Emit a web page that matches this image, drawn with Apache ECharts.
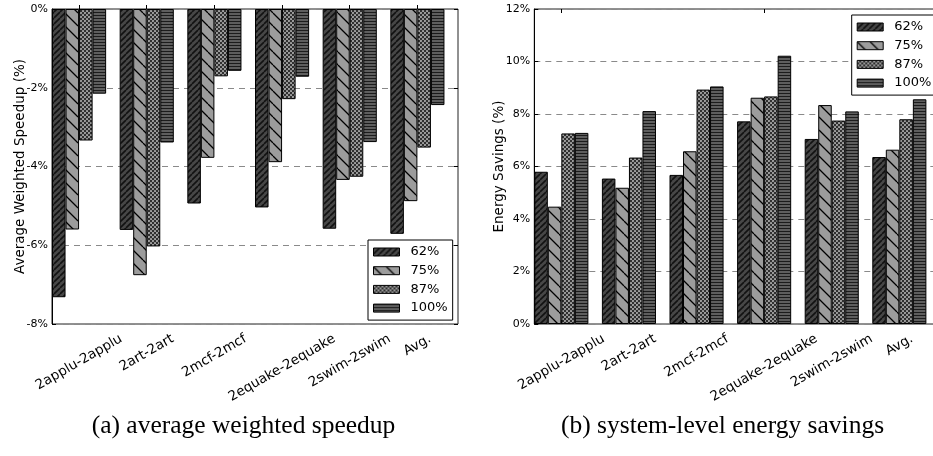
<!DOCTYPE html>
<html><head><meta charset="utf-8">
<script src="https://cdn.jsdelivr.net/npm/echarts@6/dist/echarts.min.js"></script>
<style>html,body{margin:0;padding:0;background:#fff}#c{width:933px;height:456px}</style>
</head><body><div id="c"></div>
<script>
// ---------- data ----------
const categories = ['2applu-2applu','2art-2art','2mcf-2mcf','2equake-2equake','2swim-2swim','Avg.'];
const seriesNames = ['62%','75%','87%','100%'];
const speedup62  = [-7.32,-5.61,-4.94,-5.04,-5.58,-5.71];
const speedup75  = [-5.60,-6.76,-3.78,-3.89,-4.34,-4.88];
const speedup87  = [-3.34,-6.03,-1.71,-2.29,-4.26,-3.52];
const speedup100 = [-2.15,-3.39,-1.57,-1.72,-3.38,-2.44];
const energy62  = [5.80,5.54,5.68,7.72,7.05,6.36];
const energy75  = [4.47,5.19,6.58,8.62,8.34,6.64];
const energy87  = [7.26,6.34,8.93,8.67,7.75,7.80];
const energy100 = [7.28,8.11,9.05,10.22,8.10,8.56];
const speedupTicks = [-8,-6,-4,-2,0];
const energyTicks = [0,2,4,6,8,10,12];
const yNameLeft = 'Average Weighted Speedup (%)';
const yNameRight = 'Energy Savings (%)';
const captionLeft = '(a) average weighted speedup';
const captionRight = '(b) system-level energy savings';

// ---------- hatch patterns ----------
function makeTile(w,h,draw){const c=document.createElement('canvas');c.width=w;c.height=h;const g=c.getContext('2d');draw(g,w,h);return c;}
const pat62 = makeTile(6,6,(g,w,h)=>{g.fillStyle='#474747';g.fillRect(0,0,w,h);g.strokeStyle='#121212';g.lineWidth=1.6;g.beginPath();for(let o=-w;o<=w;o+=w){g.moveTo(o,h);g.lineTo(o+w,0);}g.stroke();});
const pat75 = makeTile(13,13,(g,w,h)=>{g.fillStyle='#9c9c9c';g.fillRect(0,0,w,h);g.strokeStyle='#000';g.lineWidth=1.3;g.beginPath();for(let o=-w;o<=w;o+=w){g.moveTo(o,0);g.lineTo(o+w,h);}g.stroke();});
const pat87 = makeTile(4,4,(g,w,h)=>{g.fillStyle='#303030';g.fillRect(0,0,w,h);g.fillStyle='#a8a8a8';g.beginPath();g.arc(1,1,1.05,0,Math.PI*2);g.fill();g.beginPath();g.arc(3,3,1.05,0,Math.PI*2);g.fill();});
const pat100 = makeTile(4,3,(g,w,h)=>{g.fillStyle='#5e5e5e';g.fillRect(0,0,w,h);g.fillStyle='#1c1c1c';g.fillRect(0,0,w,1);});
const pats=[pat62,pat75,pat87,pat100];

// ---------- layout helpers ----------
const FONT='DejaVu Sans';
const LBL_FONT=13.5, LBL_LH=16, LBL_MARGIN=4, LBL_PAD=7;
const mctx=document.createElement('canvas').getContext('2d');
mctx.font=LBL_FONT+'px "'+FONT+'"';
// matplotlib-like rotated labels: centred on the tick, top of rotated box a fixed gap below the axis
function labelCats(){
  return categories.map(name=>{
    const w=mctx.measureText(name).width;
    const D=LBL_PAD + w/4 + LBL_LH*0.433 - LBL_MARGIN;
    const pt=Math.max(0, 0.866*D - LBL_LH/2);
    return {value:name, textStyle:{align:'center', verticalAlign:'top', padding:[pt, D, 0, 0]}};
  });
}
const slotL = 406/6, slotR = 405.6/6;
const G = {
  L:{left:52, top:9, width:406, height:315},
  R:{left:534.3, top:9, width:405.6, height:315}
};

function frameGrid(g){return {left:g.left, top:g.top, width:g.width, height:g.height, show:true, borderColor:'#222', borderWidth:1, backgroundColor:'transparent', containLabel:false, outerBoundsMode:'none'};}
function barGrid(g,slot){return {left:g.left - slot*0.1, top:g.top, width:g.width, height:g.height, show:false, containLabel:false, outerBoundsMode:'none'};}

function barXAxis(gi){return {type:'category', gridIndex:gi, data:labelCats(), boundaryGap:true, position:'bottom',
  axisLine:{show:false}, axisTick:{show:true, inside:true, length:4, alignWithLabel:true, lineStyle:{color:'#000'}},
  axisLabel:{show:true, interval:0, rotate:30, align:'center', verticalAlign:'top', margin:LBL_MARGIN, fontSize:LBL_FONT, lineHeight:LBL_LH, fontFamily:FONT, color:'#000', hideOverlap:false},
  splitLine:{show:false}};}
function topXAxis(gi){return {type:'category', gridIndex:gi, data:categories, boundaryGap:true, position:'top',
  axisLine:{show:false}, axisTick:{show:true, inside:true, length:4, alignWithLabel:true, lineStyle:{color:'#000'}},
  axisLabel:{show:false}, splitLine:{show:false}};}
function hiddenX(gi){return {type:'category', gridIndex:gi, data:categories, show:false};}

function mainY(gi,ticks,name,gap){return {type:'value', gridIndex:gi, min:ticks[0], max:ticks[ticks.length-1], interval:ticks[1]-ticks[0], position:'left',
  name:name, nameLocation:'middle', nameGap:gap, nameMoveOverlap:false, nameTextStyle:{fontSize:13.5, fontFamily:FONT, color:'#000'},
  axisLine:{show:true, lineStyle:{color:'#000', width:1}}, axisTick:{show:true, inside:true, length:4, lineStyle:{color:'#000'}},
  axisLabel:{formatter:'{value}%', fontSize:11, fontFamily:FONT, color:'#000', margin:4},
  splitLine:{show:true, lineStyle:{color:'#8a8a8a', type:[6,5], width:1}}};}
function rightY(gi,ticks){return {type:'value', gridIndex:gi, min:ticks[0], max:ticks[ticks.length-1], interval:ticks[1]-ticks[0], position:'right',
  axisLine:{show:false}, axisTick:{show:true, inside:true, length:4, lineStyle:{color:'#000'}}, axisLabel:{show:false}, splitLine:{show:false}};}
function hiddenY(gi,ticks){return {type:'value', gridIndex:gi, min:ticks[0], max:ticks[ticks.length-1], show:false, splitLine:{show:false}};}

function bars(arrs,xi,yi){
  return arrs.map((d,i)=>({type:'bar', name:seriesNames[i], xAxisIndex:xi, yAxisIndex:yi, data:d,
    barGap:'0%', barCategoryGap:'20%',
    itemStyle:{color:{image:pats[i], repeat:'repeat'}, borderColor:'#000', borderWidth:1},
    emphasis:{disabled:true}, silent:true}));
}
function legend(left,top){return {data:seriesNames, orient:'vertical', left:left, top:top, padding:[5,5,5,5],
  itemWidth:26, itemHeight:8, itemGap:4.7, icon:'rect', selectedMode:false,
  backgroundColor:'#fff', borderColor:'#000', borderWidth:1, borderRadius:0,
  itemStyle:{borderColor:'#000', borderWidth:1},
  textStyle:{fontSize:13, lineHeight:14, fontFamily:FONT, color:'#000', padding:[0,0,0,6]}};}

const chart=echarts.init(document.getElementById('c'),null,{renderer:'canvas'});
chart.setOption({
  animation:false,
  backgroundColor:'#fff',
  textStyle:{fontFamily:FONT},
  grid:[frameGrid(G.L), barGrid(G.L,slotL), frameGrid(G.R), barGrid(G.R,slotR)],
  xAxis:[hiddenX(0), barXAxis(1), topXAxis(1), hiddenX(2), barXAxis(3), topXAxis(3)],
  yAxis:[mainY(0,speedupTicks,yNameLeft,25), rightY(0,speedupTicks), hiddenY(1,speedupTicks),
         mainY(2,energyTicks,yNameRight,28), rightY(2,energyTicks), hiddenY(3,energyTicks)],
  legend:[legend(368,240), legend(851.7,15)],
  title:[
    {text:captionLeft, left:243.5, top:412, textAlign:'center', padding:0, textStyle:{fontFamily:'Liberation Serif', fontSize:25.5, fontWeight:'normal', color:'#000', lineHeight:28}},
    {text:captionRight, left:722.5, top:412, textAlign:'center', padding:0, textStyle:{fontFamily:'Liberation Serif', fontSize:25.5, fontWeight:'normal', color:'#000', lineHeight:28}}
  ],
  series:[...bars([speedup62,speedup75,speedup87,speedup100],1,2), ...bars([energy62,energy75,energy87,energy100],4,5)]
});
</script></body></html>
